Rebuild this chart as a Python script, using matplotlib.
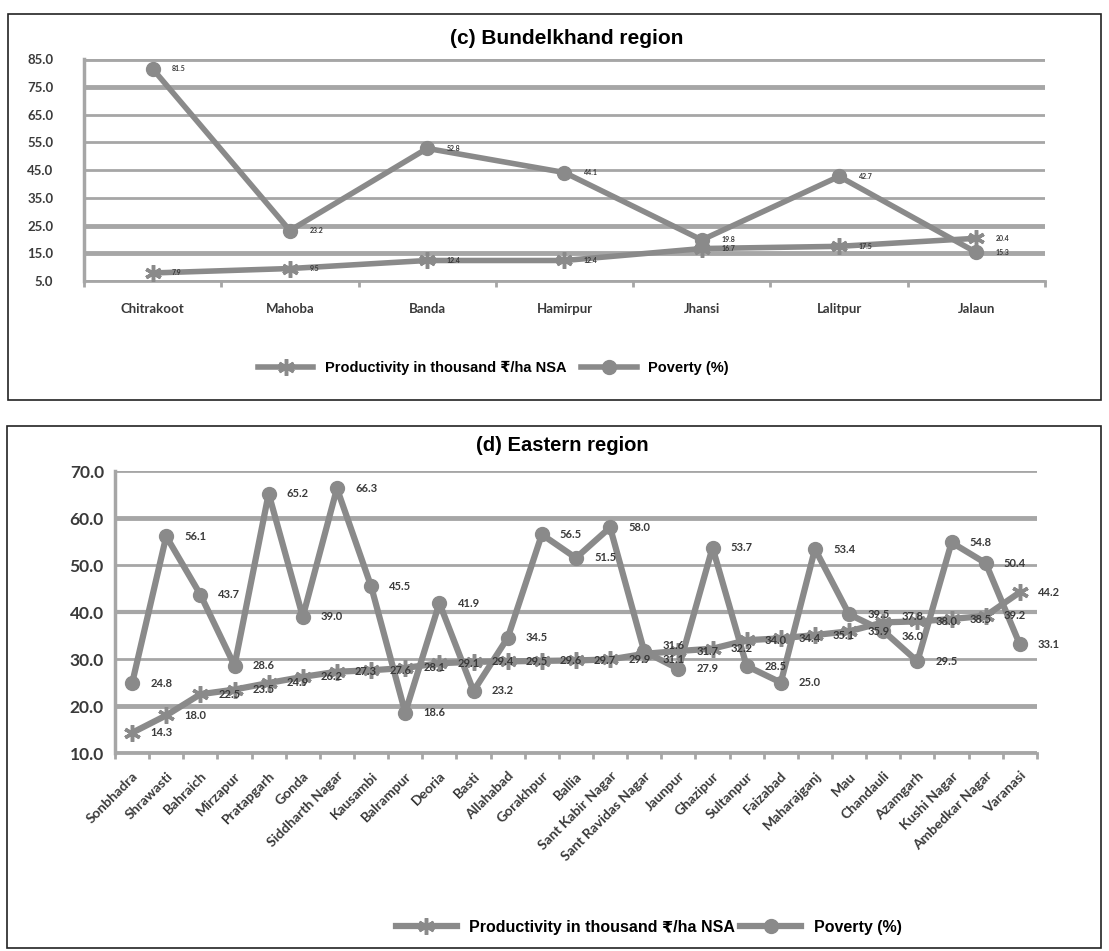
import numpy as np
import matplotlib.pyplot as plt
from matplotlib.patches import Rectangle

# (c) Bundelkhand region
bund_districts = ['Chitrakoot', 'Mahoba', 'Banda', 'Hamirpur', 'Jhansi', 'Lalitpur', 'Jalaun']
bund_prod = [7.9, 9.5, 12.4, 12.4, 16.7, 17.5, 20.4]
bund_pov = [81.5, 23.2, 52.8, 44.1, 19.8, 42.7, 15.3]

# (d) Eastern region
east_districts = ['Sonbhadra', 'Shrawasti', 'Bahraich', 'Mirzapur', 'Pratapgarh', 'Gonda',
                  'Siddharth Nagar', 'Kausambi', 'Balrampur', 'Deoria', 'Basti', 'Allahabad',
                  'Gorakhpur', 'Ballia', 'Sant Kabir Nagar', 'Sant Ravidas Nagar', 'Jaunpur',
                  'Ghazipur', 'Sultanpur', 'Faizabad', 'Maharajganj', 'Mau', 'Chandauli',
                  'Azamgarh', 'Kushi Nagar', 'Ambedkar Nagar', 'Varanasi']
east_prod = [14.3, 18.0, 22.5, 23.5, 24.9, 26.2, 27.3, 27.6, 28.1, 29.1, 29.4, 29.5, 29.6, 29.7,
             29.9, 31.1, 31.7, 32.2, 34.0, 34.4, 35.1, 35.9, 37.8, 38.0, 38.5, 39.2, 44.2]
east_pov = [24.8, 56.1, 43.7, 28.6, 65.2, 39.0, 66.3, 45.5, 18.6, 41.9, 23.2, 34.5, 56.5, 51.5,
            58.0, 31.6, 27.9, 53.7, 28.5, 25.0, 53.4, 39.5, 36.0, 29.5, 54.8, 50.4, 33.1]

LINE = '#8a8a8a'
GRID = '#a6a6a6'
TXT = '#3a3a3a'
SANS = ['Lato', 'DejaVu Sans']
ARIAL = ['Liberation Sans', 'DejaVu Sans']
prod_label = 'Productivity in thousand \u20b9/ha NSA'

fig = plt.figure(figsize=(11.09, 9.51), dpi=100)

# outer frames
fig.patches.append(Rectangle((0.0072, 0.579), 0.9856, 0.406, transform=fig.transFigure,
                             fill=False, edgecolor='#222222', lw=1.2))
fig.patches.append(Rectangle((0.0063, 0.003), 0.9865, 0.549, transform=fig.transFigure,
                             fill=False, edgecolor='#222222', lw=1.2))


def style_axes(ax, n, ticks, widths, tick_fs, ypad):
    ax.set_xlim(-0.5, n - 0.5)
    for t, w in zip(ticks, widths):
        ax.axhline(t, color=GRID, lw=w, zorder=1)
    ax.set_yticks(ticks)
    ax.set_yticklabels(['%.1f' % t for t in ticks], fontsize=tick_fs,
                       fontweight='bold', color=TXT, family=SANS)
    ax.tick_params(axis='y', length=0, pad=ypad)
    for s in ['top', 'right']:
        ax.spines[s].set_visible(False)
    ax.spines['left'].set_color(GRID)
    ax.spines['left'].set_linewidth(2.5)
    ax.spines['bottom'].set_color(GRID)
    ax.spines['bottom'].set_linewidth(2.0)
    ax.set_xticks(np.arange(n))
    ax.set_xticks(np.arange(n + 1) - 0.5, minor=True)
    ax.tick_params(axis='x', which='major', length=0)
    ax.tick_params(axis='x', which='minor', length=4, width=2, color=GRID, direction='out')


def draw_series(ax, prod, pov, lw, ms, label_fs, off):
    x = np.arange(len(prod))
    lp, = ax.plot(x, prod, color=LINE, lw=lw, marker=(6, 2, 0), ms=ms + 2, mew=2.5,
                  mec=LINE, zorder=3, label=prod_label)
    lv, = ax.plot(x, pov, color=LINE, lw=lw, marker='o', ms=ms, mec=LINE, mfc=LINE,
                  zorder=3, label='Poverty (%)')
    for xi, a, b in zip(x, prod, pov):
        # nudge labels apart where the two series nearly meet
        dy = 4 if abs(a - b) < 3 else 0
        for v, other in ((a, b), (b, a)):
            shift = dy if v >= other else -dy
            ax.annotate('%.1f' % v, (xi, v), xytext=(off, shift), textcoords='offset points',
                        ha='left', va='center', fontsize=label_fs, color=TXT,
                        fontweight='bold', family=SANS, zorder=4)
    return lp, lv


# top panel
ax1 = fig.add_axes([0.0757, 0.7045, 0.8666, 0.2334])
ax1.set_ylim(5, 85)
style_axes(ax1, len(bund_districts), [5, 15, 25, 35, 45, 55, 65, 75, 85],
           [2, 3.5, 3.5, 2, 2, 2, 2, 3.5, 3.5], 9.5, 22)
ax1.set_xticklabels(bund_districts, fontsize=9.5, fontweight='bold', color=TXT, family=SANS)
ax1.tick_params(axis='x', which='major', pad=16)
h1 = draw_series(ax1, bund_prod, bund_pov, 4, 10, 5, 14)
fig.text(0.511, 0.960, '(c) Bundelkhand region', ha='center', va='center',
         fontsize=15, fontweight='bold', family=ARIAL)
fig.legend(h1, [h.get_label() for h in h1], loc='center', bbox_to_anchor=(0.445, 0.613),
           ncol=2, frameon=False, handlelength=3.8, columnspacing=1.0,
           prop={'family': ARIAL, 'weight': 'bold', 'size': 10.5})

# bottom panel
ax2 = fig.add_axes([0.1037, 0.2082, 0.8313, 0.2965])
ax2.set_ylim(10, 70)
style_axes(ax2, len(east_districts), [10, 20, 30, 40, 50, 60, 70],
           [3.5, 3.5, 2, 3, 2, 3.5, 2], 12.5, 8)
ax2.set_xticklabels(east_districts, fontsize=10, fontweight='bold', color=TXT, family=SANS,
                    rotation=45, ha='right', rotation_mode='anchor')
ax2.tick_params(axis='x', which='major', pad=12)
h2 = draw_series(ax2, east_prod, east_pov, 4.5, 10, 8, 13)
fig.text(0.507, 0.532, '(d) Eastern region', ha='center', va='center',
         fontsize=14.5, fontweight='bold', family=ARIAL)
fig.legend(h2, [h.get_label() for h in h2], loc='center', bbox_to_anchor=(0.585, 0.025),
           ncol=2, frameon=False, handlelength=3.8, columnspacing=0.3,
           prop={'family': ARIAL, 'weight': 'bold', 'size': 11.5})

fig.savefig('out.png', dpi=100)
